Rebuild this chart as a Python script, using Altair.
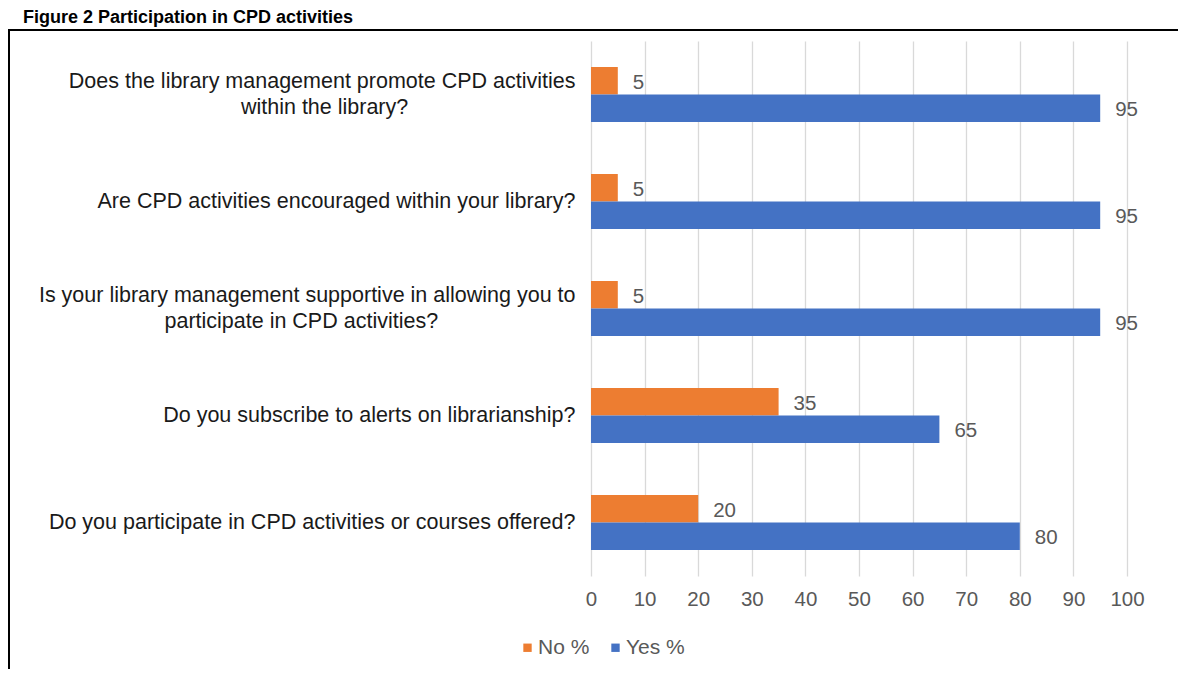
import altair as alt
import pandas as pd

# ---- data ----
questions = [
    "Does the library management promote CPD activities\nwithin the library?",
    "Are CPD activities encouraged within your library?",
    "Is your library management supportive in allowing you to\nparticipate in CPD activities?",
    "Do you subscribe to alerts on librarianship?",
    "Do you participate in CPD activities or courses offered?",
]
series = ["No %", "Yes %"]
no_values = [5, 5, 5, 35, 20]
yes_values = [95, 95, 95, 65, 80]
x_ticks = [0, 10, 20, 30, 40, 50, 60, 70, 80, 90, 100]
title_text = "Figure 2 Participation in CPD activities"
colors = ["#ED7D31", "#4472C4"]

rows = []
for q, n, y in zip(questions, no_values, yes_values):
    rows.append({"question": q, "series": series[0], "value": n})
    rows.append({"question": q, "series": series[1], "value": y})
df = pd.DataFrame(rows)
title_df = pd.DataFrame({"title": [title_text]})

FONT = "Liberation Sans"
W, H = 536, 535
PAD_L, PAD_T, PAD_R = 583, 33, 51
PAD_B = 661 - PAD_T - H

# wrapped labels: second line padded with no-break spaces (ended by a word joiner)
# so that it sits centred under the first line
label_expr = (
    "length(split(datum.label, '\\n')) > 1 ? "
    "[split(datum.label, '\\n')[0], "
    "pad(split(datum.label, '\\n')[1], length(split(datum.label, '\\n')[1]) + "
    "floor(0.92 * (length(split(datum.label, '\\n')[0]) - length(split(datum.label, '\\n')[1]))), '\u00a0') + '\u2060'] "
    ": datum.label"
)

y_enc = alt.Y(
    "question:N",
    sort=questions,
    scale=alt.Scale(paddingInner=0.486, paddingOuter=0.243),
    axis=alt.Axis(
        title=None, domain=False, ticks=False, labelPadding=16,
        labelFontSize=21.5, labelColor="#1a1a1a", labelFont=FONT,
        labelLimit=800, labelLineHeight=26, labelExpr=label_expr,
        labelOffset={"condition": {"test": "indexof(datum.value, '\\n') >= 0", "value": -13}, "value": 0},
    ),
)
yoff_enc = alt.YOffset("series:N", sort=series, scale=alt.Scale(paddingInner=0, paddingOuter=0))
x_enc = alt.X(
    "value:Q",
    scale=alt.Scale(domain=[0, 100], nice=False),
    axis=alt.Axis(
        values=x_ticks, title=None, domain=False, ticks=False, grid=True,
        gridColor="#d9d9d9", gridWidth=1.3, labelPadding=13, labelFlush=False,
        labelFontSize=20.5, labelColor="#595959", labelFont=FONT,
    ),
)
color_enc = alt.Color(
    "series:N",
    scale=alt.Scale(domain=series, range=colors),
    legend=alt.Legend(
        title=None, orient="none", legendX=-74, legendY=596, direction="horizontal",
        symbolType="square", symbolSize=70, symbolStrokeWidth=0,
        labelFontSize=21, labelColor="#595959", labelFont=FONT,
        columnPadding=15, labelOffset=0,
    ),
)

base = alt.Chart(df)
bars = base.mark_bar().encode(x=x_enc, y=y_enc, yOffset=yoff_enc, color=color_enc)
labels = base.mark_text(
    align="left", baseline="middle", dx=15, dy=2, fontSize=20.5, color="#595959", font=FONT
).encode(x=x_enc, y=y_enc, yOffset=yoff_enc, text=alt.Text("value:Q"))

title_mark = alt.Chart(title_df).mark_text(
    align="left", baseline="top", fontSize=18, fontWeight="bold", color="black", font=FONT
).encode(x=alt.value(-568), y=alt.value(-32), text="title:N")

top_line = alt.Chart(title_df).mark_rule(color="black", strokeWidth=2).encode(
    x=alt.value(-582), x2=alt.value(W + PAD_R + 10), y=alt.value(-11)
)
left_line = alt.Chart(title_df).mark_rule(color="black", strokeWidth=2).encode(
    x=alt.value(-582), y=alt.value(-12), y2=alt.value(H + PAD_B + 10)
)

chart = alt.layer(bars, labels, title_mark, top_line, left_line).properties(
    width=W,
    height=H,
    autosize=alt.AutoSizeParams(type="none"),
    padding={"left": PAD_L, "top": PAD_T, "right": PAD_R, "bottom": PAD_B},
).configure_view(stroke=None)

chart.save("out.html", embed_options={"renderer": "svg", "actions": False})
